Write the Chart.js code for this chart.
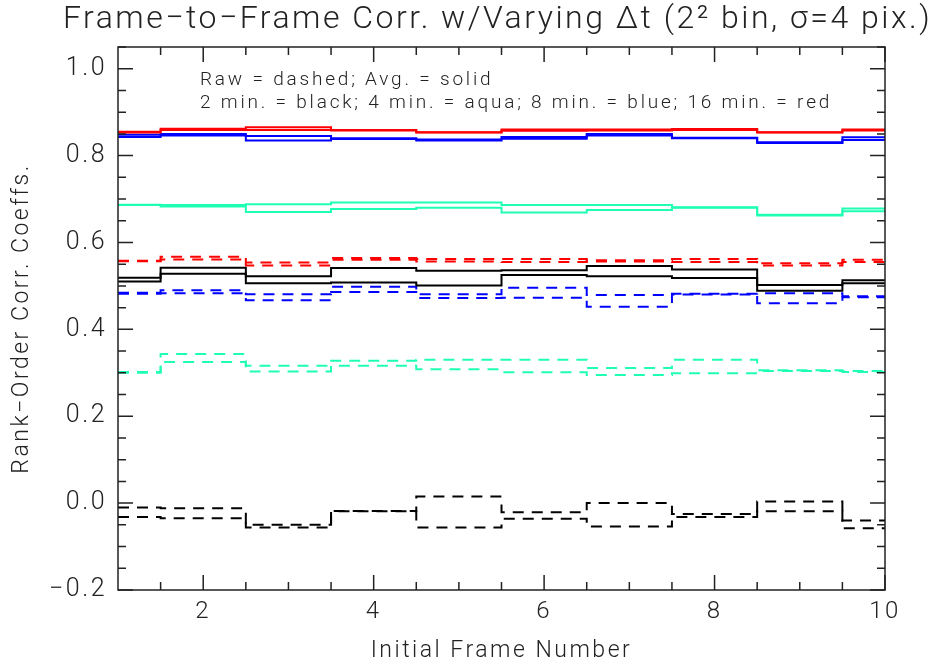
<!DOCTYPE html>
<html>
<head>
<meta charset="utf-8">
<script src="https://cdn.jsdelivr.net/npm/chart.js@4.4.1/dist/chart.umd.min.js"></script>
<style>
  html, body { margin: 0; padding: 0; background: #fff; }
  #wrap { width: 943px; height: 666px; position: relative; }
</style>
</head>
<body>
<div id="wrap"><canvas id="corrChart"></canvas></div>
<script>
/* ── Données ────────────────────────────────────────────────── */
const frames = [1, 2, 3, 4, 5, 6, 7, 8, 9, 10];

// Avg. = solid (two curves per time step)
const redAvgA   = [0.855, 0.862, 0.865, 0.859, 0.854, 0.860, 0.860, 0.861, 0.854, 0.860];
const redAvgB   = [0.853, 0.859, 0.859, 0.858, 0.853, 0.857, 0.858, 0.859, 0.853, 0.858];
const blueAvgA  = [0.848, 0.850, 0.845, 0.840, 0.837, 0.843, 0.850, 0.841, 0.831, 0.842];
const blueAvgB  = [0.843, 0.846, 0.835, 0.838, 0.835, 0.839, 0.846, 0.840, 0.829, 0.836];
const aquaAvgA  = [0.687, 0.686, 0.688, 0.692, 0.692, 0.686, 0.686, 0.681, 0.664, 0.678];
const aquaAvgB  = [0.686, 0.683, 0.670, 0.677, 0.680, 0.669, 0.675, 0.680, 0.662, 0.672];
const blackAvgA = [0.519, 0.542, 0.522, 0.541, 0.535, 0.536, 0.546, 0.538, 0.502, 0.513];
const blackAvgB = [0.510, 0.528, 0.506, 0.508, 0.501, 0.525, 0.522, 0.518, 0.489, 0.506];

// Raw = dashed
const redRawA   = [0.558, 0.567, 0.554, 0.564, 0.562, 0.562, 0.559, 0.562, 0.552, 0.560];
const redRawB   = [0.557, 0.561, 0.547, 0.560, 0.556, 0.555, 0.556, 0.555, 0.547, 0.555];
const blueRawA  = [0.484, 0.490, 0.481, 0.498, 0.481, 0.496, 0.479, 0.482, 0.483, 0.476];
const blueRawB  = [0.482, 0.483, 0.467, 0.486, 0.472, 0.473, 0.452, 0.480, 0.460, 0.474];
const aquaRawA  = [0.302, 0.343, 0.316, 0.328, 0.330, 0.330, 0.311, 0.330, 0.306, 0.304];
const aquaRawB  = [0.300, 0.325, 0.303, 0.316, 0.308, 0.301, 0.295, 0.299, 0.304, 0.302];
const blackRawA = [-0.010, -0.012, -0.050, -0.018, 0.015, -0.021, 0.000, -0.025, 0.004, -0.040];
const blackRawB = [-0.032, -0.035, -0.056, -0.019, -0.056, -0.036, -0.054, -0.032, -0.019, -0.058];

// Ticks
const xMajorTicks = [2, 4, 6, 8, 10];
const xMinorTicks = [1.5, 2.5, 3, 3.5, 4.5, 5, 5.5, 6.5, 7, 7.5, 8.5, 9, 9.5];
const yMajorTicks = [-0.2, 0.0, 0.2, 0.4, 0.6, 0.8, 1.0];
const yMinorTicks = [-0.15, -0.1, -0.05, 0.05, 0.1, 0.15, 0.25, 0.3, 0.35, 0.45, 0.5, 0.55,
                     0.65, 0.7, 0.75, 0.85, 0.9, 0.95, 1.0, 1.05];

const titleText = 'Frame\u2212to\u2212Frame Corr. w/Varying \u0394t (2\u00b2 bin, \u03c3=4 pix.)';
const noteLines = ['Raw = dashed; Avg. = solid',
                   '2 min. = black; 4 min. = aqua; 8 min. = blue; 16 min. = red'];

/* ── Styles ─────────────────────────────────────────────────── */
const FONT = 'Roboto, "DejaVu Sans", sans-serif';
const INK = '#222';
const SPACING = '2.5px';
const COLORS = { black: '#000000', aqua: '#1effb4', blue: '#0000ff', red: '#ff0000' };
const DASH = [11, 8];

function series(label, values, color, dashed) {
    return {
        label: label,
        data: frames.map((f, i) => ({ x: f, y: values[i] })),
        borderColor: color,
        borderWidth: 2,
        borderDash: dashed ? DASH : [],
        stepped: 'middle',
        pointRadius: 0,
        fill: false
    };
}

/* ── Cadre, graduations intérieures et textes ───────────────── */
const framePlugin = {
    id: 'idlFrame',
    // wide, thin lettering like the IDL vector font
    beforeLayout(chart) { chart.ctx.letterSpacing = SPACING; },
    beforeDraw(chart)   { chart.ctx.letterSpacing = SPACING; },
    afterDraw(chart) {
        const { ctx, chartArea: a, scales: { x, y } } = chart;
        ctx.save();
        ctx.strokeStyle = INK;
        ctx.lineWidth = 1.5;
        ctx.strokeRect(a.left, a.top, a.right - a.left, a.bottom - a.top);
        ctx.beginPath();
        const xt = (v, len) => {
            const px = x.getPixelForValue(v);
            ctx.moveTo(px, a.bottom); ctx.lineTo(px, a.bottom - len);
            ctx.moveTo(px, a.top);    ctx.lineTo(px, a.top + len);
        };
        const yt = (v, len) => {
            const py = y.getPixelForValue(v);
            ctx.moveTo(a.left, py);  ctx.lineTo(a.left + len, py);
            ctx.moveTo(a.right, py); ctx.lineTo(a.right - len, py);
        };
        xMajorTicks.forEach(v => xt(v, 15));
        xMinorTicks.forEach(v => xt(v, 8));
        yMajorTicks.forEach(v => yt(v, 15));
        yMinorTicks.forEach(v => yt(v, 8));
        ctx.stroke();

        ctx.fillStyle = INK;
        ctx.textBaseline = 'middle';
        ctx.textAlign = 'center';
        ctx.letterSpacing = '2.5px';
        ctx.font = '300 32px ' + FONT;
        ctx.fillText(titleText, (a.left + a.right) / 2 - 4, 20);
        ctx.textAlign = 'left';
        ctx.letterSpacing = '2.8px';
        ctx.font = '300 19px ' + FONT;
        ctx.fillText(noteLines[0], 200, 80);
        ctx.fillText(noteLines[1], 200, 103);
        ctx.restore();
    }
};

/* ── Graphique ──────────────────────────────────────────────── */
const ctx = document.getElementById('corrChart').getContext('2d');

const corrChart = new Chart(ctx, {
    type: 'line',
    data: {
        datasets: [
            series('16 min. avg A', redAvgA, COLORS.red, false),
            series('16 min. avg B', redAvgB, COLORS.red, false),
            series('8 min. avg A', blueAvgA, COLORS.blue, false),
            series('8 min. avg B', blueAvgB, COLORS.blue, false),
            series('4 min. avg A', aquaAvgA, COLORS.aqua, false),
            series('4 min. avg B', aquaAvgB, COLORS.aqua, false),
            series('2 min. avg A', blackAvgA, COLORS.black, false),
            series('2 min. avg B', blackAvgB, COLORS.black, false),
            series('16 min. raw A', redRawA, COLORS.red, true),
            series('16 min. raw B', redRawB, COLORS.red, true),
            series('8 min. raw A', blueRawA, COLORS.blue, true),
            series('8 min. raw B', blueRawB, COLORS.blue, true),
            series('4 min. raw A', aquaRawA, COLORS.aqua, true),
            series('4 min. raw B', aquaRawB, COLORS.aqua, true),
            series('2 min. raw A', blackRawA, COLORS.black, true),
            series('2 min. raw B', blackRawB, COLORS.black, true)
        ]
    },
    options: {
        responsive: true,
        maintainAspectRatio: false,
        animation: false,
        layout: { padding: { top: 47, right: 58, left: 0, bottom: 0 } },
        scales: {
            x: {
                type: 'linear',
                min: 1,
                max: 10,
                afterBuildTicks: s => { s.ticks = xMajorTicks.map(v => ({ value: v })); },
                afterFit: s => { s.height = 76; },
                grid:   { display: false, drawTicks: false },
                border: { display: false },
                ticks:  { color: INK, padding: 8, font: { family: FONT, size: 24, weight: 300 } },
                title:  { display: true, text: 'Initial Frame Number', color: INK,
                          padding: { top: 4, bottom: 1 },
                          font: { family: FONT, size: 23, weight: 300 } }
            },
            y: {
                min: -0.2,
                max: 1.05,
                afterBuildTicks: s => { s.ticks = yMajorTicks.map(v => ({ value: v })); },
                afterFit: s => { s.width = 118; },
                grid:   { display: false, drawTicks: false },
                border: { display: false },
                ticks:  { color: INK, padding: 11,
                          font: { family: FONT, size: 25, weight: 300 },
                          callback: v => v.toFixed(1).replace('-', '\u2212') },
                title:  { display: true, text: 'Rank\u2212Order Corr. Coeffs.', color: INK,
                          padding: { top: 8, bottom: 0 },
                          font: { family: FONT, size: 23, weight: 300 } }
            }
        },
        plugins: {
            legend:  { display: false },
            tooltip: { enabled: false }
        }
    },
    plugins: [framePlugin]
});
</script>
</body>
</html>
